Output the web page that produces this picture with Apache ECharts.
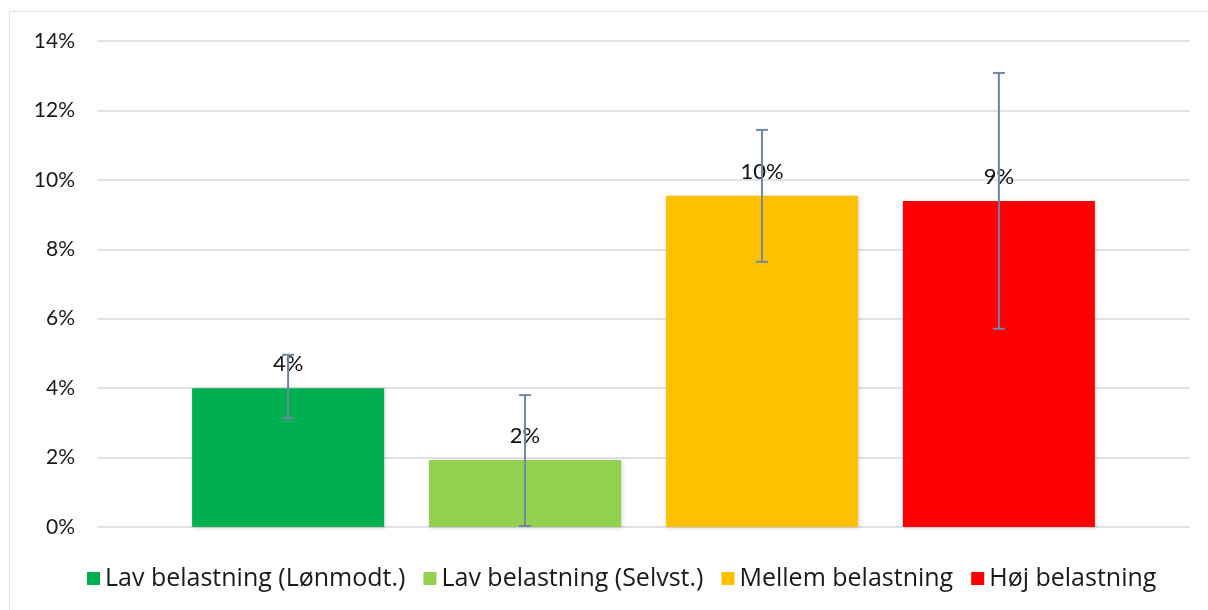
<!DOCTYPE html>
<html>
<head>
<meta charset="utf-8">
<script src="https://cdn.jsdelivr.net/npm/echarts@6/dist/echarts.min.js"></script>
<style>
  html, body { margin: 0; padding: 0; background: #fff; }
  #chart { width: 1208px; height: 610px; }
</style>
</head>
<body>
<div id="chart"></div>
<script>
// data
var seriesNames = ['Lav belastning (Lønmodt.)', 'Lav belastning (Selvst.)', 'Mellem belastning', 'Høj belastning'];
var values = [4.0, 1.93, 9.54, 9.39];
var errLow = [3.13, 0.03, 7.64, 5.71];
var errHigh = [4.96, 3.80, 11.44, 13.08];
var colors = ['#00B050', '#92D050', '#FFC000', '#FF0000'];
var yTicks = [0, 2, 4, 6, 8, 10, 12, 14];

var font = 'Lato, "Open Sans", sans-serif';
var legendFont = '"Open Sans", "Noto Sans", sans-serif';
var barW = 192;
var barGap = 0.234;

var chart = echarts.init(document.getElementById('chart'));

var series = [];
seriesNames.forEach(function (name, i) {
    series.push({
        name: name,
        type: 'bar',
        barWidth: barW,
        barGap: (barGap * 100) + '%',
        data: [values[i]],
        itemStyle: {
            color: colors[i],
            shadowColor: 'rgba(0,0,0,0.18)',
            shadowBlur: 4,
            shadowOffsetX: 1,
            shadowOffsetY: 1
        },
        label: {
            show: true,
            position: 'top',
            distance: 13,
            formatter: function (p) { return Math.round(p.value) + '%'; },
            color: '#111',
            fontFamily: font,
            fontSize: 22
        },
        z: 2
    });
});

// error bars
series.push({
    type: 'custom',
    z: 5,
    silent: true,
    data: values.map(function (v, i) { return [0, errLow[i], errHigh[i], i]; }),
    renderItem: function (params, api) {
        var i = api.value(3);
        var lo = api.coord([0, api.value(1)]);
        var hi = api.coord([0, api.value(2)]);
        var off = (i - 1.5) * barW * (1 + barGap);
        var x = lo[0] + off;
        var cap = 6;
        var st = { stroke: '#6f86a6', lineWidth: 2 };
        return {
            type: 'group',
            children: [
                { type: 'line', shape: { x1: x, y1: hi[1], x2: x, y2: lo[1] }, style: st },
                { type: 'line', shape: { x1: x - cap, y1: hi[1], x2: x + cap, y2: hi[1] }, style: st },
                { type: 'line', shape: { x1: x - cap, y1: lo[1], x2: x + cap, y2: lo[1] }, style: st }
            ]
        };
    }
});

var option = {
    backgroundColor: '#fff',
    animation: false,
    graphic: [{
        type: 'rect',
        shape: { x: 9.5, y: 11.5, width: 1220, height: 620 },
        style: { fill: 'none', stroke: '#dde2e8', lineWidth: 1 },
        silent: true
    }],
    grid: { left: 97, right: 18, top: 41, bottom: 83 },
    legend: {
        data: seriesNames,
        bottom: 14,
        left: 82,
        itemWidth: 13,
        itemHeight: 13,
        itemGap: 18,
        icon: 'rect',
        textStyle: { fontFamily: legendFont, fontSize: 25, color: '#1a1a1a' }
    },
    xAxis: {
        type: 'category',
        data: [''],
        axisLine: { show: false },
        axisTick: { show: false },
        axisLabel: { show: false }
    },
    yAxis: {
        type: 'value',
        min: yTicks[0],
        max: yTicks[yTicks.length - 1],
        interval: 2,
        axisLine: { show: false },
        axisTick: { show: false },
        splitLine: { lineStyle: { color: '#dfe3e8', width: 2 } },
        axisLabel: {
            formatter: '{value}%',
            margin: 22,
            color: '#1a1a1a',
            fontFamily: font,
            fontSize: 21
        }
    },
    series: series
};
chart.setOption(option);
</script>
</body>
</html>
